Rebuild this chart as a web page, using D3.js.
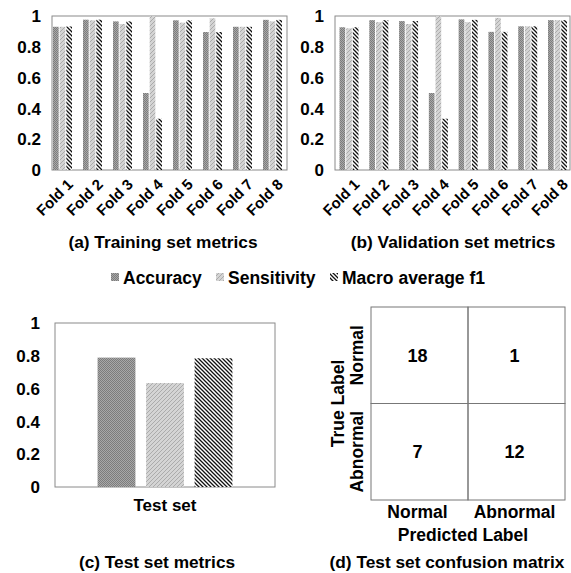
<!DOCTYPE html>
<html>
<head>
<meta charset="utf-8">
<script src="https://cdn.jsdelivr.net/npm/d3@7"></script>
<style>
  body { margin: 0; background: #fff; }
  svg text { font-family: "Liberation Sans", Arial, Helvetica, sans-serif; font-weight: bold; fill: #000; }
</style>
</head>
<body>
<div id="chart"></div>
<script>
// data
const folds = ["Fold 1", "Fold 2", "Fold 3", "Fold 4", "Fold 5", "Fold 6", "Fold 7", "Fold 8"];
const metrics = ["Accuracy", "Sensitivity", "Macro average f1"];
const trainAcc = [0.93, 0.976, 0.965, 0.5, 0.972, 0.896, 0.93, 0.975];
const trainSens = [0.93, 0.972, 0.948, 1.0, 0.957, 0.985, 0.93, 0.965];
const trainF1 = [0.932, 0.976, 0.965, 0.333, 0.972, 0.896, 0.93, 0.975];
const valAcc = [0.927, 0.973, 0.967, 0.5, 0.978, 0.897, 0.933, 0.973];
const valSens = [0.92, 0.96, 0.948, 1.0, 0.96, 0.988, 0.933, 0.973];
const valF1 = [0.927, 0.973, 0.967, 0.333, 0.975, 0.897, 0.933, 0.973];
const testSet = ["Test set"];
const testVals = [0.789, 0.634, 0.785];
const labels = ["Normal", "Abnormal"];
const confusion = [[18, 1], [7, 12]];
const yTicks = [0, 0.2, 0.4, 0.6, 0.8, 1];

const W = 571, H = 573;
const svg = d3.select("#chart").append("svg").attr("width", W).attr("height", H);

// motifs de remplissage
const defs = svg.append("defs");
let pa = defs.append("pattern").attr("id", "pAcc").attr("patternUnits", "userSpaceOnUse")
  .attr("width", 2).attr("height", 2);
pa.append("rect").attr("width", 2).attr("height", 2).attr("fill", "#a8a8a8");
pa.append("rect").attr("width", 1).attr("height", 1).attr("fill", "#7c7c7c");
pa.append("rect").attr("x", 1).attr("y", 1).attr("width", 1).attr("height", 1).attr("fill", "#7c7c7c");

let ps = defs.append("pattern").attr("id", "pSens").attr("patternUnits", "userSpaceOnUse")
  .attr("width", 4).attr("height", 4);
ps.append("rect").attr("width", 4).attr("height", 4).attr("fill", "#d4d4d4");
ps.append("path").attr("d", "M0,4 L4,0").attr("stroke", "#ababab").attr("stroke-width", 1);

let pf = defs.append("pattern").attr("id", "pF1").attr("patternUnits", "userSpaceOnUse")
  .attr("width", 4).attr("height", 4);
pf.append("rect").attr("width", 4).attr("height", 4).attr("fill", "#fff");
pf.append("path").attr("d", "M-1,-1 L5,5 M-1,3 L1,5 M3,-1 L5,1").attr("stroke", "#111").attr("stroke-width", 1.3);

const fills = ["url(#pAcc)", "url(#pSens)", "url(#pF1)"];

function frame(g, x0, x1, y) {
  g.append("rect").attr("x", x0).attr("y", y(1)).attr("width", x1 - x0).attr("height", y(0) - y(1))
    .attr("fill", "none").attr("stroke", "#8a8a8a").attr("stroke-width", 1);
}

function yAxis(g, x0, y, gap) {
  g.selectAll(".yt").data(yTicks).join("text")
    .attr("x", x0 - gap).attr("y", d => y(d)).attr("dy", "0.36em")
    .attr("text-anchor", "end").attr("font-size", 17)
    .text(d => d === 0 ? "0" : d === 1 ? "1" : d3.format(".1f")(d));
}

// graphique par plis
function foldChart(series, left, right, c0, c1, caption, capX) {
  const g = svg.append("g");
  const y = d3.scaleLinear().domain([0, 1]).range([170, 16]);
  const x0 = d3.scalePoint().domain(folds).range([c0, c1]);
  const x1 = d3.scaleBand().domain(metrics).range([-9.5, 9.5]).paddingInner(0.15);
  frame(g, left, right, y);
  folds.forEach((f, i) => {
    metrics.forEach((m, j) => {
      const v = series[j][i];
      g.append("rect")
        .attr("x", x0(f) + x1(m)).attr("y", y(v))
        .attr("width", x1.bandwidth()).attr("height", y(0) - y(v))
        .attr("fill", fills[j]);
    });
    g.append("text")
      .attr("transform", `translate(${x0(f) + 4},${y(0) + 8}) rotate(-45)`)
      .attr("text-anchor", "end").attr("dy", "0.7em").attr("font-size", 15)
      .text(f);
  });
  yAxis(g, left, y, 11);
  g.append("text").attr("x", capX).attr("y", 248)
    .attr("text-anchor", "middle").attr("font-size", 17.3).text(caption);
}

foldChart([trainAcc, trainSens, trainF1], 52, 287, 62.5, 272.5, "(a) Training set metrics", 163);
foldChart([valAcc, valSens, valF1], 335, 570, 349, 557.5, "(b) Validation set metrics", 453);

// légende
const legend = svg.append("g");
const legX = [111, 216, 330];
metrics.forEach((m, j) => {
  legend.append("rect").attr("x", legX[j]).attr("y", 273).attr("width", 8).attr("height", 8).attr("fill", fills[j]);
  legend.append("text").attr("x", legX[j] + 12).attr("y", 284).attr("font-size", 17.5).text(m);
});

// (c) ensemble de test
{
  const g = svg.append("g");
  const y = d3.scaleLinear().domain([0, 1]).range([487, 323]);
  const x0 = d3.scaleBand().domain(testSet).range([55, 275]).padding(0.24);
  const x1 = d3.scaleBand().domain(metrics).range([0, x0.bandwidth()]).paddingInner(0.22);
  frame(g, 55, 275, y);
  metrics.forEach((m, j) => {
    g.append("rect")
      .attr("x", x0("Test set") + x1(m)).attr("y", y(testVals[j]))
      .attr("width", x1.bandwidth()).attr("height", y(0) - y(testVals[j]))
      .attr("fill", fills[j]);
  });
  yAxis(g, 55, y, 15);
  g.append("text").attr("x", x0("Test set") + x0.bandwidth() / 2).attr("y", 511)
    .attr("text-anchor", "middle").attr("font-size", 17).text("Test set");
  g.append("text").attr("x", 157).attr("y", 568)
    .attr("text-anchor", "middle").attr("font-size", 17.3).text("(c) Test set metrics");
}

// (d) matrice de confusion
{
  const g = svg.append("g");
  const x = d3.scaleBand().domain(labels).range([371, 565]);
  const y = d3.scaleBand().domain(labels).range([307, 500]);
  labels.forEach((r, i) => {
    labels.forEach((c, j) => {
      g.append("rect").attr("x", x(c)).attr("y", y(r))
        .attr("width", x.bandwidth()).attr("height", y.bandwidth())
        .attr("fill", "none").attr("stroke", "#777").attr("stroke-width", 1);
      g.append("text").attr("x", x(c) + x.bandwidth() / 2 - 2).attr("y", y(r) + y.bandwidth() / 2)
        .attr("dy", "0.36em").attr("text-anchor", "middle").attr("font-size", 18)
        .text(confusion[i][j]);
    });
    g.append("text").attr("x", x(r) + x.bandwidth() / 2 - 2).attr("y", 518)
      .attr("text-anchor", "middle").attr("font-size", 17.5).text(r);
    g.append("text")
      .attr("transform", `translate(${363},${y(r) + y.bandwidth() / 2}) rotate(-90)`)
      .attr("text-anchor", "middle").attr("font-size", 17.5).text(r);
  });
  g.append("text").attr("x", 463).attr("y", 541)
    .attr("text-anchor", "middle").attr("font-size", 17.5).text("Predicted Label");
  g.append("text")
    .attr("transform", `translate(${344},${(307 + 500) / 2}) rotate(-90)`)
    .attr("text-anchor", "middle").attr("font-size", 17.5).text("True Label");
  g.append("text").attr("x", 447).attr("y", 568)
    .attr("text-anchor", "middle").attr("font-size", 17.3).text("(d) Test set confusion matrix");
}
</script>
</body>
</html>
